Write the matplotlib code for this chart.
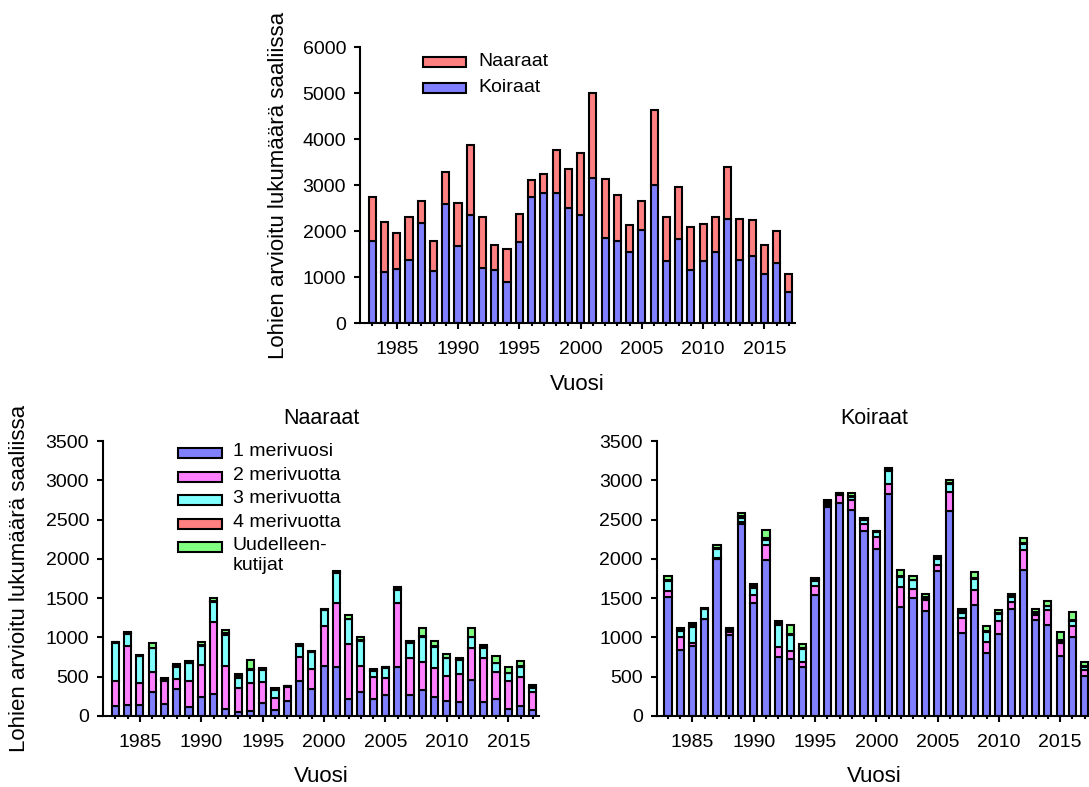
import matplotlib
matplotlib.use("Agg")
import matplotlib.pyplot as plt
from matplotlib.patches import Rectangle
import numpy as np

plt.rcParams['font.family'] = ['Liberation Sans', 'DejaVu Sans']

years = list(range(1983, 2018))
major_years = [1985, 1990, 1995, 2000, 2005, 2010, 2015]

# Top chart: totals by sex
koiraat_total = [1783, 1109, 1174, 1377, 2174, 1130, 2587, 1674, 2355, 1196, 1152, 891, 1754, 2746,
                 2833, 2819, 2507, 2355, 3145, 1841, 1783, 1543, 2029, 2993, 1348, 1826, 1145, 1348,
                 1551, 2261, 1362, 1457, 1072, 1312, 674]
naaraat_total = [957, 1087, 790, 927, 485, 660, 703, 942, 1507, 1101, 544, 725, 616, 355, 399, 935,
                 834, 1348, 1862, 1297, 1007, 587, 630, 1637, 964, 1123, 942, 797, 746, 1123, 899,
                 775, 624, 695, 391]

# Naaraat by sea age
n1 = [130, 140, 140, 300, 150, 350, 110, 240, 280, 90, 50, 60, 170, 80, 190, 449, 340, 636, 619, 220,
      300, 220, 270, 619, 270, 330, 240, 190, 180, 458, 180, 220, 90, 130, 80]
n2 = [319, 750, 284, 255, 290, 116, 339, 408, 911, 550, 302, 360, 258, 150, 175, 305, 257, 508, 813,
      695, 336, 271, 209, 822, 463, 361, 366, 318, 354, 402, 553, 335, 359, 361, 220]
n3 = [486, 155, 341, 305, 15, 161, 220, 242, 258, 390, 128, 165, 152, 100, 13, 136, 213, 202, 393,
      315, 319, 79, 131, 159, 192, 317, 275, 225, 181, 140, 127, 114, 93, 136, 60]
n4 = [5, 12, 5, 10, 12, 15, 10, 20, 10, 30, 24, 10, 15, 10, 5, 12, 8, 5, 12, 10, 10, 12, 9, 18, 16,
      10, 8, 8, 11, 10, 13, 8, 7, 8, 14]
n5 = [5, 15, 5, 54, 12, 15, 24, 26, 41, 33, 30, 117, 15, 15, 3, 13, 8, 5, 10, 44, 43, 11, 8, 18, 17,
      101, 64, 47, 11, 104, 30, 90, 70, 68, 20]

# Koiraat by sea age
k1 = [1517, 839, 890, 1229, 2004, 1034, 2441, 1432, 1983, 754, 725, 627, 1538, 2661, 2716, 2627,
      2352, 2131, 2831, 1390, 1508, 1339, 1847, 2610, 1051, 1407, 805, 1042, 1356, 1864, 1220, 1157,
      763, 1000, 513]
k2 = [72, 165, 42, 10, 10, 36, 29, 106, 191, 127, 106, 64, 115, 25, 94, 119, 89, 149, 127, 246, 106,
      136, 77, 242, 195, 195, 140, 170, 89, 255, 70, 190, 167, 148, 77]
k3 = [131, 81, 204, 121, 117, 15, 50, 85, 72, 276, 199, 156, 67, 20, 10, 44, 49, 65, 162, 135, 115,
      20, 76, 106, 64, 140, 127, 85, 75, 67, 15, 51, 20, 60, 37]
k4 = [10, 18, 20, 7, 13, 18, 20, 30, 15, 25, 12, 20, 18, 28, 13, 15, 13, 6, 16, 10, 8, 25, 18, 12, 22,
      10, 8, 15, 18, 10, 15, 8, 16, 10, 15]
k5 = [50, 20, 22, 10, 30, 20, 45, 33, 103, 26, 115, 44, 20, 20, 10, 34, 18, 5, 25, 75, 47, 27, 20, 38,
      24, 83, 68, 35, 21, 75, 44, 60, 106, 100, 40]

sex_labels = ["Naaraat", "Koiraat"]
age_labels = ["1 merivuosi", "2 merivuotta", "3 merivuotta", "4 merivuotta", "Uudelleen-\nkutijat"]
ylabel = "Lohien arvioitu lukumäärä saaliissa"
xlabel = "Vuosi"

BLUE, MAG, CYAN, SALMON, GREEN = '#8080FF', '#FF80FF', '#80FFFF', '#FF8080', '#80FF80'
age_colors = [BLUE, MAG, CYAN, SALMON, GREEN]

W, H = 1089, 787
fig = plt.figure(figsize=(W / 100, H / 100), dpi=100)


def axpos(l, t, w, h):
    return [l / W, 1 - (t + h) / H, w / W, h / H]


def fx(x):
    return x / W


def fy(y):
    return 1 - y / H


BW = 0.58
LW = 1.5


def style(ax, ymax, step, xmin=1982):
    ax.set_xlim(xmin, 2017.5)
    ax.set_ylim(0, ymax)
    for s in ['top', 'right']:
        ax.spines[s].set_visible(False)
    for s in ['left', 'bottom']:
        ax.spines[s].set_linewidth(1.5)
    ax.set_yticks(range(0, ymax + 1, step))
    ax.set_xticks(major_years)
    ax.set_xticks(years, minor=True)
    ax.tick_params(axis='both', which='major', direction='out', length=4, width=1.5, labelsize=14)
    ax.tick_params(axis='x', which='major', pad=9)
    ax.tick_params(axis='y', which='major', pad=6)
    ax.tick_params(axis='x', which='minor', direction='out', length=2, width=1.5)
    ax.set_facecolor('none')


# ---- Top chart
ax = fig.add_axes(axpos(360, 47, 435, 276))
ax.bar(years, koiraat_total, width=BW, color=BLUE, edgecolor='black', linewidth=LW)
ax.bar(years, naaraat_total, width=BW, bottom=koiraat_total, color=SALMON, edgecolor='black', linewidth=LW)
style(ax, 6000, 1000)
fig.text(fx(278), fy(185), ylabel, rotation=90, ha='center', va='center', fontsize=16)
fig.text(fx(577), fy(384), xlabel, ha='center', va='center', fontsize=16)

# top legend
for i, (lab, col) in enumerate(zip(sex_labels, [SALMON, BLUE])):
    yc = 62 + i * 26
    fig.add_artist(Rectangle((fx(423), fy(yc + 5)), 43 / W, 10 / H, transform=fig.transFigure,
                             facecolor=col, edgecolor='black', linewidth=LW))
    fig.text(fx(478), fy(yc), lab, ha='left', va='center', fontsize=14)


def stacked(ax, series):
    bottom = np.zeros(len(years))
    for vals, col in zip(series, age_colors):
        ax.bar(years, vals, width=BW, bottom=bottom, color=col, edgecolor='black', linewidth=LW)
        bottom = bottom + np.array(vals)


# ---- Bottom left: Naaraat
axn = fig.add_axes(axpos(103, 441, 436, 275))
stacked(axn, [n1, n2, n3, n4, n5])
style(axn, 3500, 500)
fig.text(fx(321), fy(419), sex_labels[0], ha='center', va='center', fontsize=15.5)
fig.text(fx(321), fy(777), xlabel, ha='center', va='center', fontsize=16)
fig.text(fx(20), fy(578), ylabel, rotation=90, ha='center', va='center', fontsize=16)

# bottom legend
rows = [453, 477, 500, 524, 547]
for lab, col, yc in zip(age_labels, age_colors, rows):
    fig.add_artist(Rectangle((fx(178), fy(yc + 5)), 44 / W, 10 / H, transform=fig.transFigure,
                             facecolor=col, edgecolor='black', linewidth=LW))
    fig.text(fx(233), fy(yc - 10), lab, ha='left', va='top', fontsize=14, linespacing=1.2)

# ---- Bottom right: Koiraat
axk = fig.add_axes(axpos(656.7, 441, 434, 275))
stacked(axk, [k1, k2, k3, k4, k5])
style(axk, 3500, 500, xmin=1982.08)
fig.text(fx(874), fy(419), sex_labels[1], ha='center', va='center', fontsize=15.5)
fig.text(fx(874), fy(777), xlabel, ha='center', va='center', fontsize=16)

fig.savefig("out.png", dpi=100)
